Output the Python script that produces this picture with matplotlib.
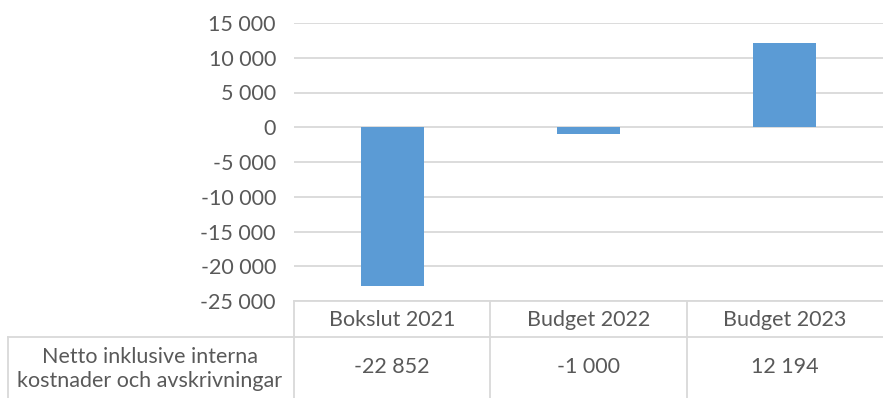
import matplotlib.pyplot as plt
from matplotlib.lines import Line2D

# data
categories = ['Bokslut 2021', 'Budget 2022', 'Budget 2023']
values = [-22852, -1000, 12194]
value_labels = ['-22 852', '-1 000', '12 194']
row_label = 'Netto inklusive interna\nkostnader och avskrivningar'
yticks = [15000, 10000, 5000, 0, -5000, -10000, -15000, -20000, -25000]

bar_color = '#5B9BD5'
text_color = '#595959'
grid_color = '#D9D9D9'
fs = 15.5

plt.rcParams['font.family'] = ['Lato', 'DejaVu Sans']

W, H = 883, 398
fig = plt.figure(figsize=(W / 100, H / 100), dpi=100)

# plot area in pixels
x0, x1 = 294, 883
y_top, y_bot = 23, 301
ax = fig.add_axes([x0 / W, (H - y_bot) / H, (x1 - x0) / W, (y_bot - y_top) / H])

ax.bar(range(len(values)), values, width=0.32, color=bar_color, zorder=3)
ax.set_xlim(-0.5, len(values) - 0.5)
ax.set_ylim(-25000, 15000)
ax.set_yticks(yticks)
ax.set_yticklabels([f'{v:,}'.replace(',', ' ') for v in yticks])
ax.tick_params(axis='y', length=0, pad=13, labelsize=fs, labelcolor=text_color)
ax.set_xticks([])
for s in ax.spines.values():
    s.set_visible(False)
for v in yticks:
    ax.axhline(v, color=grid_color, lw=1.3, zorder=1)

# data table below the chart
def hline(y, xa, xb):
    fig.add_artist(Line2D([xa / W, xb / W], [1 - y / H, 1 - y / H],
                          color=grid_color, lw=1.3))

def vline(x, ya, yb):
    fig.add_artist(Line2D([x / W, x / W], [1 - ya / H, 1 - yb / H],
                          color=grid_color, lw=1.3))

col_w = (x1 - x0) / len(categories)
row1_top, row2_top = 301, 337
hline(row1_top, x0, x1)
hline(row2_top, 8, x1)
vline(8, row2_top, H)
for i in range(len(categories)):
    vline(x0 + i * col_w, row1_top, H)

for i, (cat, lab) in enumerate(zip(categories, value_labels)):
    cx = (x0 + (i + 0.5) * col_w) / W
    fig.text(cx, 1 - 320 / H, cat, ha='center', va='center',
             fontsize=fs, color=text_color)
    fig.text(cx, 1 - 367 / H, lab, ha='center', va='center',
             fontsize=fs, color=text_color)

fig.text(150 / W, 1 - 369 / H, row_label, ha='center', va='center',
         fontsize=fs, color=text_color, linespacing=1.2)

fig.savefig('out.png', dpi=100)
